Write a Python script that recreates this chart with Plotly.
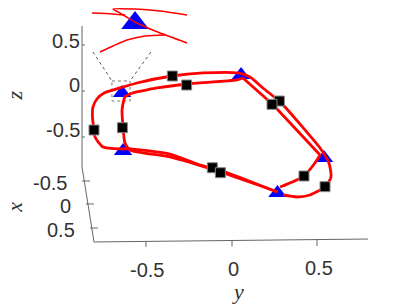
import plotly.graph_objects as go

# Stride curve, (y, z) values in axis units
seg_a_y = [-.807,-.816,-.813,-.790,-.748,-.655,-.556,-.351,-.170,.035,.105,.181,.275,.310,.515,.567,.579,.544,.456,.380,.298]
seg_a_z = [-.424,-.283,-.174,-.087,-.022,.033,.087,.163,.196,.196,.152,.033,-.109,-.174,-.620,-.783,-.935,-1.043,-1.130,-1.152,-1.130]
seg_b_y = [.269,-.070,-.363,-.596,-.626,-.637,-.643,-.626,-.585]
seg_b_z = [-1.098,-.880,-.717,-.641,-.565,-.391,-.207,-.065,-.022]
seg_c_y = [-.585,-.439,-.263,.029,.064]
seg_c_z = [-.022,.033,.076,.120,.141]
seg_d_y = [.064,.234,.269,.515]
seg_d_z = [.141,-.141,-.207,-.696]
seg_e_y = [.515,.485,.421,.281]
seg_e_z = [-.696,-.783,-.924,-1.043]
seg_f_y = [.263,-.070,-.187,-.363,-.596,-.643,-.754,-.801,-.807]
seg_f_z = [-1.098,-.859,-.804,-.685,-.630,-.630,-.609,-.5,-.424]

# Magnified inset curves
inset_1_y = [-.819,-.696,-.626]
inset_1_z = [.848,.837,.826]
inset_2_y = [-.263,-.421,-.567,-.696,-.667,-.626,-.567,-.450,-.263]
inset_2_z = [.826,.870,.891,.891,.859,.815,.750,.652,.522]
inset_3_y = [-.772,-.696,-.614,-.509,-.392]
inset_3_z = [.424,.489,.554,.598,.609]
inset_tri_y = [-.567]
inset_tri_z = [.739]

tri_y = [.053,-.643,-.637,.538,.266]
tri_z = [.174,-.022,-.652,-.728,-1.109]
sq_y = [-.807,-.641,-.349,-.265,.277,.234,.544,.421,-.115,-.068]
sq_z = [-.424,-.399,.163,.065,-.109,-.145,-1.040,-.924,-.834,-.888]

box_y = [-.702,-.596,-.596,-.702,-.702]
box_z = [.109,.109,-.109,-.109,.109]
funnel_y = [-.813,-.702,None,-.474,-.596]
funnel_z = [.424,.109,None,.424,.109]

frame_y = [-.877,-.877,-.807,.795]
frame_z = [.707,-.826,-1.641,-1.609]
tick_y = [-.877,-.860,None,-.877,-.860,None,-.877,-.860,None,
          -.503,-.503,None,0,0,None,.497,.497,None,
          -.877,-.830,None,-.854,-.807,None,-.830,-.784]
tick_z = [.500,.500,None,0,0,None,-.500,-.500,None,
          -1.630,-1.695,None,-1.625,-1.690,None,-1.609,-1.685,None,
          -.978,-.978,None,-1.228,-1.228,None,-1.489,-1.489]

z_labels = ["0.5", "0", "-0.5"]
z_label_pos = [(-.88, .543), (-.88, .065), (-.88, -.424)]
y_labels = ["-0.5", "0", "0.5"]
y_label_pos = [(-.497, -1.945), (.006, -1.935), (.509, -1.924)]
x_labels = ["-0.5", "0", "0.5"]
x_label_pos = [(-.953, -1.0), (-.930, -1.25), (-.906, -1.511)]


def join(*pairs):
    ys, zs = [], []
    for y, z in pairs:
        if ys:
            ys.append(None)
            zs.append(None)
        ys += y
        zs += z
    return ys, zs


loop_y, loop_z = join((seg_a_y, seg_a_z), (seg_b_y, seg_b_z), (seg_c_y, seg_c_z),
                      (seg_d_y, seg_d_z), (seg_e_y, seg_e_z), (seg_f_y, seg_f_z))
in_y, in_z = join((inset_1_y, inset_1_z), (inset_2_y, inset_2_z), (inset_3_y, inset_3_z))

fig = go.Figure()
fig.add_trace(go.Scatter(x=frame_y, y=frame_z, mode="lines", line=dict(color="#666666", width=1)))
fig.add_trace(go.Scatter(x=tick_y, y=tick_z, mode="lines", line=dict(color="#666666", width=1)))
fig.add_trace(go.Scatter(x=box_y, y=box_z, mode="lines", line=dict(color="#777777", width=1, dash="dot")))
fig.add_trace(go.Scatter(x=funnel_y, y=funnel_z, mode="lines", line=dict(color="#555555", width=1, dash="dot")))
fig.add_trace(go.Scatter(x=tri_y, y=tri_z, mode="markers",
                         marker=dict(symbol="triangle-up", size=16, color="#0000ff")))
fig.add_trace(go.Scatter(x=inset_tri_y, y=inset_tri_z, mode="markers",
                         marker=dict(symbol="triangle-up", size=24, color="#0000ff")))
fig.add_trace(go.Scatter(x=in_y, y=in_z, mode="lines",
                         line=dict(color="#ff0000", width=1.5, shape="spline", smoothing=0.8)))
fig.add_trace(go.Scatter(x=loop_y, y=loop_z, mode="lines",
                         line=dict(color="#ff0000", width=2.8, shape="spline", smoothing=0.6)))
fig.add_trace(go.Scatter(x=sq_y, y=sq_z, mode="markers",
                         marker=dict(symbol="square", size=10, color="#000000",
                                     line=dict(color="#888888", width=1))))

annotations = []


def label(text, y, z, xanchor="center", size=20, family="Liberation Sans", italic=False, angle=0):
    annotations.append(dict(
        x=y, y=z, xref="x", yref="y", text=f"<i>{text}</i>" if italic else text,
        showarrow=False, xanchor=xanchor, yanchor="middle", textangle=angle,
        font=dict(family=family, size=size, color="#333333"),
    ))


for t, (y, z) in zip(z_labels, z_label_pos):
    label(t, y, z, xanchor="right")
for t, (y, z) in zip(y_labels, y_label_pos):
    label(t, y, z)
for t, (y, z) in zip(x_labels, x_label_pos):
    label(t, y, z, xanchor="right")
label("y", .035, -2.174, family="Liberation Serif", italic=True, size=22)
label("x", -1.269, -1.27, family="Liberation Serif", italic=True, size=22, angle=-90)
label("z", -1.269, -.05, family="Liberation Serif", italic=True, size=22, angle=-90)

fig.update_layout(
    width=407, height=305, autosize=False, showlegend=False,
    paper_bgcolor="white", plot_bgcolor="white",
    margin=dict(l=0, r=0, t=0, b=0),
    xaxis=dict(range=[-1.3567, 1.0234], visible=False),
    yaxis=dict(range=[-2.3261, .9891], visible=False),
    annotations=annotations,
)
fig.write_html("out.html", config={"displayModeBar": False},
               post_script="document.body.style.margin='0';document.body.style.overflow='hidden';")
